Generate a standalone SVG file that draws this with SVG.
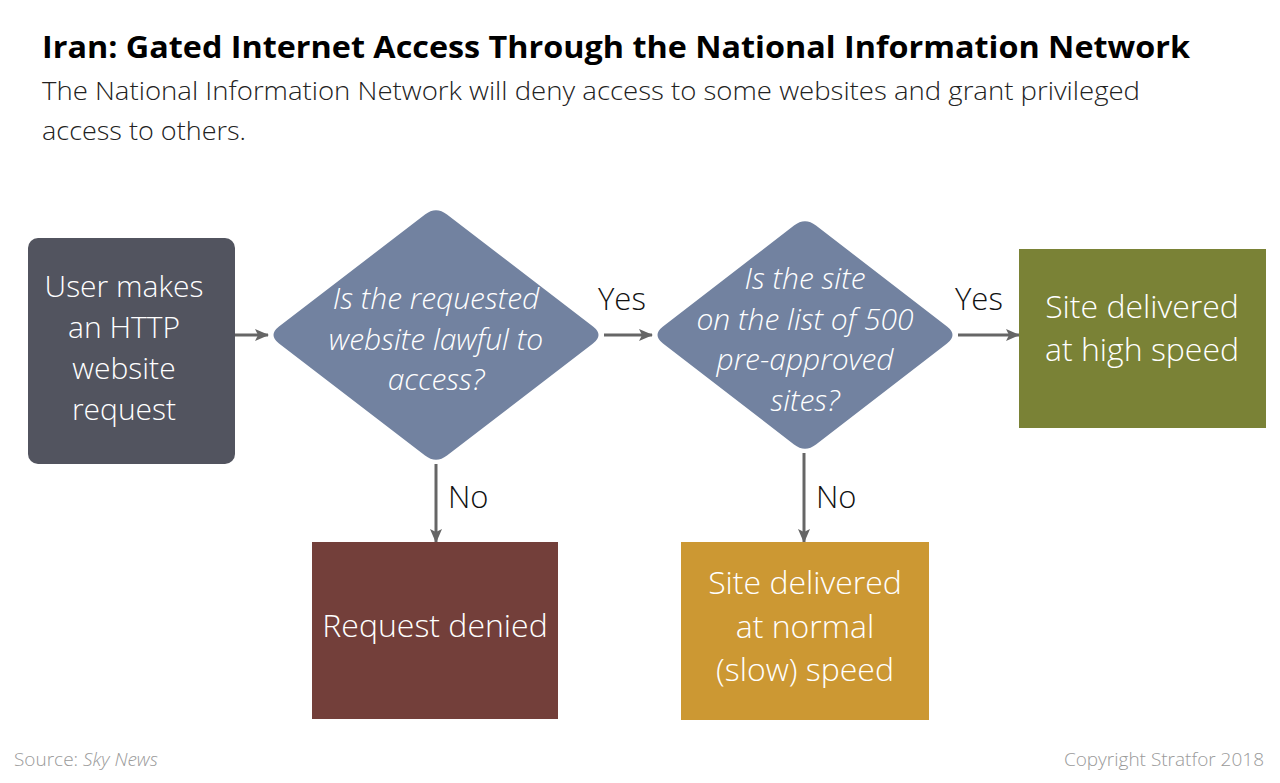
<svg xmlns="http://www.w3.org/2000/svg" width="1280" height="783" viewBox="0 0 1280 783">
<defs>
<marker id="ah" markerWidth="14" markerHeight="12" refX="13" refY="6" orient="auto" markerUnits="userSpaceOnUse">
<path d="M0,0 L14,6 L0,12 L3,6 Z" fill="#666666"/>
</marker>
<style>
.lbl{font-family:"Open Sans","Liberation Sans",sans-serif;font-weight:300;fill:#ffffff;text-anchor:middle}
.q{font-family:"Open Sans","Liberation Sans",sans-serif;font-weight:300;font-style:italic;fill:#ffffff;text-anchor:middle;font-size:30px}
.edge{stroke:#666666;stroke-width:3;fill:none;marker-end:url(#ah)}
.el{font-family:"Open Sans","Liberation Sans",sans-serif;font-weight:300;fill:#111111;font-size:31px}
.ft{font-family:"Open Sans","Liberation Sans",sans-serif;font-weight:300;fill:#9a9a9a;font-size:19px}
</style>
</defs>
<rect width="1280" height="783" fill="#ffffff"/>
<text x="42" y="58" font-family="Open Sans, Liberation Sans, sans-serif" font-weight="700" font-size="31" fill="#000" textLength="1148" lengthAdjust="spacingAndGlyphs">Iran: Gated Internet Access Through the National Information Network</text>
<text x="42" y="100" font-family="Open Sans, Liberation Sans, sans-serif" font-weight="300" font-size="26" fill="#222" textLength="1098" lengthAdjust="spacingAndGlyphs">The National Information Network will deny access to some websites and grant privileged</text>
<text x="42" y="140" font-family="Open Sans, Liberation Sans, sans-serif" font-weight="300" font-size="26" fill="#222" textLength="204" lengthAdjust="spacingAndGlyphs">access to others.</text>

<g id="connectors">
<line class="edge" x1="235" y1="335" x2="268" y2="335"/>
<line class="edge" x1="604" y1="335" x2="652" y2="335"/>
<line class="edge" x1="958" y1="335" x2="1019" y2="335"/>
<line class="edge" x1="436" y1="464" x2="436" y2="542"/>
<line class="edge" x1="804" y1="453" x2="804" y2="542"/>
<text class="el" x="598" y="310">Yes</text>
<text class="el" x="955" y="310">Yes</text>
<text class="el" x="448" y="508">No</text>
<text class="el" x="816" y="508">No</text>
</g>

<g id="start">
<rect x="28" y="238" width="207" height="226" rx="10" fill="#52545f"/>
<text class="lbl" font-size="30"><tspan x="124" y="297">User makes</tspan><tspan x="124" y="338">an HTTP</tspan><tspan x="124" y="379">website</tspan><tspan x="124" y="420">request</tspan></text>
</g>

<g id="lawful">
<path d="M 425,214.5 Q 436,206 447,214.5 L 593,326.5 Q 604,335 593,343.5 L 447,455.5 Q 436,464 425,455.5 L 279,343.5 Q 268,335 279,326.5 Z" fill="#7282a0"/>
<text class="q"><tspan x="436" y="309">Is the requested</tspan><tspan x="436" y="350">website lawful to</tspan><tspan x="436" y="390">access?</tspan></text>
</g>

<g id="approved">
<path d="M 794,225.5 Q 805,217 816,225.5 L 947,326.5 Q 958,335 947,343.5 L 816,444.5 Q 805,453 794,444.5 L 663,343.5 Q 652,335 663,326.5 Z" fill="#7282a0"/>
<text class="q"><tspan x="805" y="289">Is the site</tspan><tspan x="805" y="330">on the list of 500</tspan><tspan x="805" y="370">pre-approved</tspan><tspan x="805" y="411">sites?</tspan></text>
</g>

<g id="high">
<rect x="1019" y="249" width="247" height="179" fill="#7a8236"/>
<text class="lbl" font-size="32"><tspan x="1142" y="318">Site delivered</tspan><tspan x="1142" y="361">at high speed</tspan></text>
</g>

<g id="denied">
<rect x="312" y="542" width="246" height="177" fill="#733f3a"/>
<text class="lbl" font-size="32" x="435" y="637">Request denied</text>
</g>

<g id="normal">
<rect x="681" y="542" width="248" height="178" fill="#cc9833"/>
<text class="lbl" font-size="32"><tspan x="805" y="594">Site delivered</tspan><tspan x="805" y="638">at normal</tspan><tspan x="805" y="681">(slow) speed</tspan></text>
</g>

<text class="ft" x="14" y="766">Source: <tspan font-style="italic">Sky News</tspan></text>
<text class="ft" x="1264" y="766" text-anchor="end">Copyright Stratfor 2018</text>
</svg>
